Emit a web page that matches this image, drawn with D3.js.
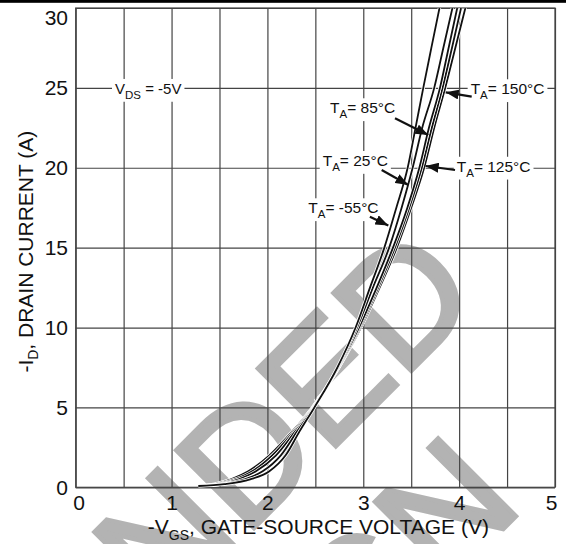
<!DOCTYPE html>
<html>
<head>
<meta charset="utf-8">
<script src="https://cdn.jsdelivr.net/npm/d3@7"></script>
<style>
  html, body { margin: 0; padding: 0; background: #fff; }
  svg { display: block; font-family: Arial, "Liberation Sans", Helvetica, sans-serif; }
</style>
</head>
<body>
<div id="chart"></div>
<script>
// Transfer characteristics: -ID versus -VGS at VDS = -5 V, five ambient temperatures.
const xTicks = [0, 1, 2, 3, 4, 5];
const xGrid = [0, 0.5, 1, 1.5, 2, 2.5, 3, 3.5, 4, 4.5, 5];
const yTicks = [0, 5, 10, 15, 20, 25, 30];

// Drain current levels (A) at which each curve's gate voltage is listed
const drainCurrent = [0.08, 0.2, 0.5, 1, 2, 3.5, 5, 7.5, 10, 12.5, 15, 17.5, 20, 22.5, 25, 27.5, 30];
// Gate-source voltage (V) for each temperature at the current levels above
const vgs150 = [1.28, 1.45, 1.62, 1.80, 2.02, 2.26, 2.47, 2.745, 2.975, 3.17, 3.35, 3.50, 3.635, 3.74, 3.855, 3.96, 4.065];
const vgs125 = [1.28, 1.48, 1.66, 1.84, 2.05, 2.275, 2.475, 2.745, 2.965, 3.155, 3.33, 3.48, 3.61, 3.715, 3.827, 3.925, 4.02];
const vgs85 = [1.28, 1.51, 1.70, 1.88, 2.09, 2.29, 2.48, 2.74, 2.955, 3.14, 3.31, 3.46, 3.585, 3.685, 3.80, 3.89, 3.98];
const vgs25 = [1.28, 1.53, 1.76, 1.95, 2.14, 2.31, 2.485, 2.735, 2.935, 3.10, 3.27, 3.40, 3.515, 3.615, 3.74, 3.835, 3.93];
const vgsMinus55 = [1.28, 1.55, 1.82, 2.02, 2.19, 2.335, 2.49, 2.73, 2.92, 3.07, 3.22, 3.345, 3.463, 3.545, 3.626, 3.71, 3.795];

const seriesNames = ["150", "125", "85", "25", "-55"];
const seriesVgs = [vgs150, vgs125, vgs85, vgs25, vgsMinus55];

// Curve callouts: label text, label anchor (V, A), arrow tail and tip (V, A)
const calloutTemp = ["150°C", "85°C", "25°C", "125°C", "-55°C"];
const calloutTextV = [4.12, 2.653, 2.577, 3.975, 2.426];
const calloutTextI = [24.6, 23.41, 20.11, 19.75, 17.15];
const arrowTail = [[4.131, 24.45], [3.331, 23.10], [3.192, 19.86], [3.957, 19.86], [3.069, 16.94]];
const arrowTip = [[3.860, 24.72], [3.678, 22.05], [3.470, 18.92], [3.651, 20.11], [3.261, 16.39]];
const conditionV = 0.41, conditionI = 24.62;

const watermarkLines = ["NOT RECOMMENDED", "FOR NEW DESIGN"];

const W = 566, H = 544;
const svg = d3.select("#chart").append("svg").attr("width", W).attr("height", H);
svg.append("rect").attr("width", W).attr("height", H).attr("fill", "#fff");

const x = d3.scaleLinear().domain([0, 5]).range([75.7, 555]);
const y = d3.scaleLinear().domain([0, 30]).range([487.3, 8]);

// Watermark, under everything else
const wm = svg.append("g")
  .attr("transform", "translate(483.6,298.4) rotate(-45)")
  .attr("fill", "#b3b3b3")
  .attr("stroke", "#b3b3b3")
  .attr("stroke-width", 4.5)
  .attr("stroke-linejoin", "miter")
  .attr("font-size", 160)
  .attr("text-anchor", "end");
wm.append("text").attr("x", 0).attr("y", 0).text(watermarkLines[0]);
wm.append("text").attr("x", -118).attr("y", 177).text(watermarkLines[1]);

// Black rule along the top edge
svg.append("rect").attr("x", 0).attr("y", 0).attr("width", W).attr("height", 2.8).attr("fill", "#000");

const plotH = y(0) - y(30), plotW = x(5) - x(0);
const gridColor = "#444";

// X axis: grid every 0.5 V, labels on whole volts
const gx = svg.append("g")
  .attr("transform", `translate(0,${y(0)})`)
  .call(d3.axisBottom(x).tickValues(xGrid).tickSize(-plotH).tickPadding(7.8)
    .tickFormat(d => xTicks.includes(d) ? d : ""));
gx.select(".domain").remove();
gx.selectAll(".tick line").attr("stroke", gridColor).attr("stroke-width", 1.2);
gx.selectAll(".tick text")
  .attr("font-size", 21).attr("fill", "#111")
  .attr("x", d => Math.min(Math.max(x(d), x(0) + 3), x(5) - 4) - x(d));

// Y axis: grid every 5 A
const gy = svg.append("g")
  .attr("transform", `translate(${x(0)},0)`)
  .call(d3.axisLeft(y).tickValues(yTicks).tickSize(-plotW).tickPadding(7.7));
gy.select(".domain").remove();
gy.selectAll(".tick line").attr("stroke", gridColor).attr("stroke-width", 1.2);
gy.selectAll(".tick text")
  .attr("font-size", 21).attr("fill", "#111")
  .attr("y", d => Math.max(y(d), 17.5) - y(d));

// Plot frame
svg.append("rect")
  .attr("x", x(0)).attr("y", y(30)).attr("width", plotW).attr("height", plotH)
  .attr("fill", "none").attr("stroke", gridColor).attr("stroke-width", 1.2);

// Axis titles
const yTitle = svg.append("text")
  .attr("transform", `translate(33.3,${(y(0) + y(30)) / 2 + 4}) rotate(-90)`)
  .attr("text-anchor", "middle").attr("font-size", 21).attr("fill", "#111");
yTitle.append("tspan").text("-I");
yTitle.append("tspan").attr("font-size", 14).attr("dy", 5).text("D");
yTitle.append("tspan").attr("dy", -5).text(", DRAIN CURRENT (A)");

const xTitle = svg.append("text")
  .attr("x", (x(0) + x(5)) / 2 + 3).attr("y", 534)
  .attr("text-anchor", "middle").attr("font-size", 21).attr("fill", "#111");
xTitle.append("tspan").text("-V");
xTitle.append("tspan").attr("font-size", 14).attr("dy", 6).text("GS");
xTitle.append("tspan").attr("dy", -6).text(", GATE-SOURCE VOLTAGE (V)");

// Curves
svg.append("clipPath").attr("id", "plotClip")
  .append("rect").attr("x", x(0)).attr("y", y(30)).attr("width", plotW).attr("height", plotH);

const line = d3.line()
  .x(d => x(d[0]))
  .y(d => y(d[1]))
  .curve(d3.curveMonotoneX);

const curves = svg.append("g").attr("clip-path", "url(#plotClip)").attr("fill", "none");
seriesVgs.forEach((vgs, k) => {
  const pts = vgs.map((v, i) => [v, drainCurrent[i]]);
  curves.append("path").datum(pts).attr("d", line)
    .attr("stroke", "#fff").attr("stroke-width", 3.4).attr("class", "halo-" + seriesNames[k]);
  curves.append("path").datum(pts).attr("d", line)
    .attr("stroke", "#111").attr("stroke-width", 1.8).attr("stroke-linejoin", "round");
});

// Labels with white backing boxes
function labelWithSub(g, px, py, main, sub, rest, size, subSize) {
  const t = g.append("text").attr("x", px).attr("y", py).attr("font-size", size).attr("fill", "#111");
  t.append("tspan").text(main);
  t.append("tspan").attr("font-size", subSize).attr("dy", 4.8).text(sub);
  t.append("tspan").attr("dy", -4.8).text(rest);
  const b = t.node().getBBox();
  g.insert("rect", "text")
    .attr("x", b.x - 3).attr("y", b.y - 1).attr("width", b.width + 6).attr("height", b.height + 2)
    .attr("fill", "#fff");
  return t;
}

const labels = svg.append("g");
labelWithSub(labels.append("g"), x(conditionV), y(conditionI), "V", "DS", " = -5V", 15, 11.5);
calloutTemp.forEach((temp, i) => {
  labelWithSub(labels.append("g"), x(calloutTextV[i]), y(calloutTextI[i]), "T", "A", "= " + temp, 15.5, 11.5);
});

// Arrows
svg.append("defs").append("marker")
  .attr("id", "head").attr("markerUnits", "userSpaceOnUse")
  .attr("markerWidth", 14).attr("markerHeight", 10)
  .attr("refX", 13).attr("refY", 5).attr("orient", "auto")
  .append("path").attr("d", "M0,0 L13,5 L0,10 Z").attr("fill", "#111");

svg.append("g").selectAll("line").data(d3.range(arrowTip.length)).join("line")
  .attr("x1", i => x(arrowTail[i][0])).attr("y1", i => y(arrowTail[i][1]))
  .attr("x2", i => x(arrowTip[i][0])).attr("y2", i => y(arrowTip[i][1]))
  .attr("stroke", "#111").attr("stroke-width", 2.2)
  .attr("marker-end", "url(#head)");
</script>
</body>
</html>
